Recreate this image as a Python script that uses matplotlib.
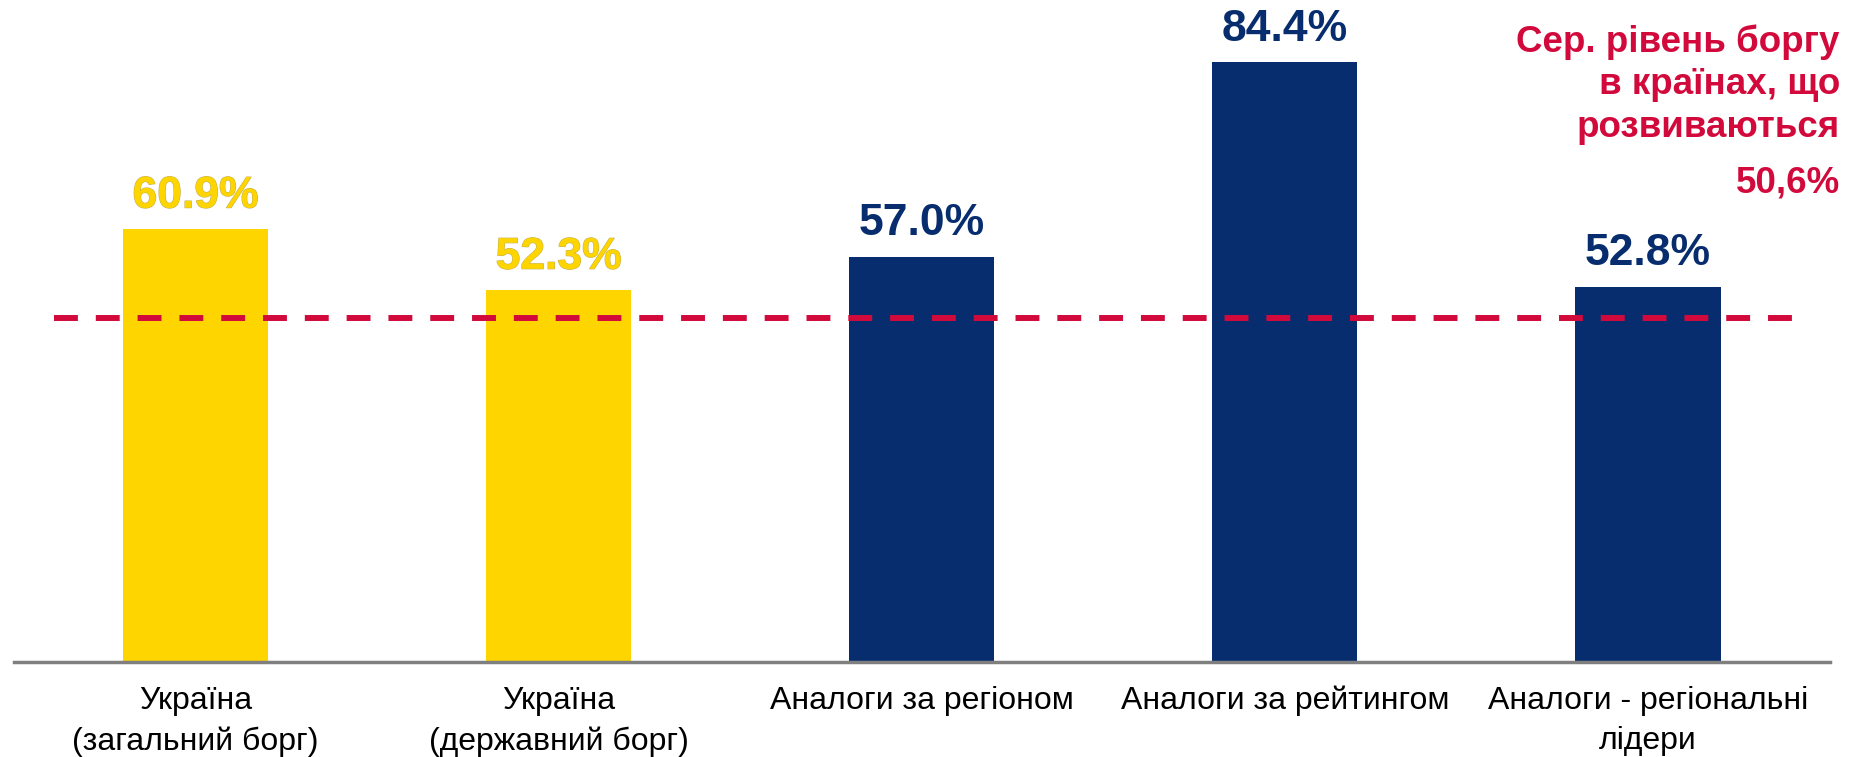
import matplotlib.pyplot as plt
import matplotlib.patheffects as pe

categories = ['Україна\n(загальний борг)', 'Україна\n(державний борг)',
              'Аналоги за регіоном', 'Аналоги за рейтингом',
              'Аналоги - регіональні\nлідери']
values = [60.9, 52.3, 57.0, 84.4, 52.8]
value_labels = ['60.9%', '52.3%', '57.0%', '84.4%', '52.8%']
avg_level = 48.4  # where the dashed line sits in the picture
avg_text = 'Сер. рівень боргу\nв країнах, що\nрозвиваються'
avg_value = '50,6%'

yellow = '#FFD500'
navy = '#082D6E'
red = '#D20A3C'
colors = [yellow, yellow, navy, navy, navy]

plt.rcParams['font.family'] = ['Liberation Sans', 'DejaVu Sans']

fig = plt.figure(figsize=(18.63, 7.57), dpi=100)
ax = fig.add_axes([14 / 1863, 95 / 757, 1815.5 / 1863, 661 / 757])

x = range(len(values))
ax.bar(x, values, width=0.4, color=colors, zorder=2)
ax.set_xlim(-0.5, 4.5)
ax.set_ylim(0, 93)

ax.plot([-0.39, 4.42], [avg_level, avg_level], color=red, linewidth=4.3,
        dashes=(4, 3), solid_capstyle='butt', dash_capstyle='butt', zorder=3)

for i, (v, lab) in enumerate(zip(values, value_labels)):
    t = ax.annotate(lab, (i, v), xytext=(0, 9), textcoords='offset points',
                    ha='center', va='bottom', fontsize=32, fontweight='bold',
                    color=colors[i])
    if colors[i] == yellow:
        t.set_path_effects([pe.withStroke(linewidth=0.8, foreground='#C4B050')])

for s in ['top', 'left', 'right']:
    ax.spines[s].set_visible(False)
ax.spines['bottom'].set_color('#7F7F7F')
ax.spines['bottom'].set_linewidth(2.5)
ax.set_yticks([])
ax.set_xticks(list(x))
ax.set_xticklabels(categories, fontsize=23, linespacing=1.45)
ax.tick_params(axis='x', length=0, pad=17)

fig.text(1840 / 1863, 1 - 24 / 757, avg_text, ha='right', va='top',
         fontsize=26.5, fontweight='bold', color=red, linespacing=1.28)
fig.text(1840 / 1863, 1 - 192 / 757, avg_value, ha='right', va='baseline',
         fontsize=26.5, fontweight='bold', color=red)

fig.savefig('out.png', dpi=100)
